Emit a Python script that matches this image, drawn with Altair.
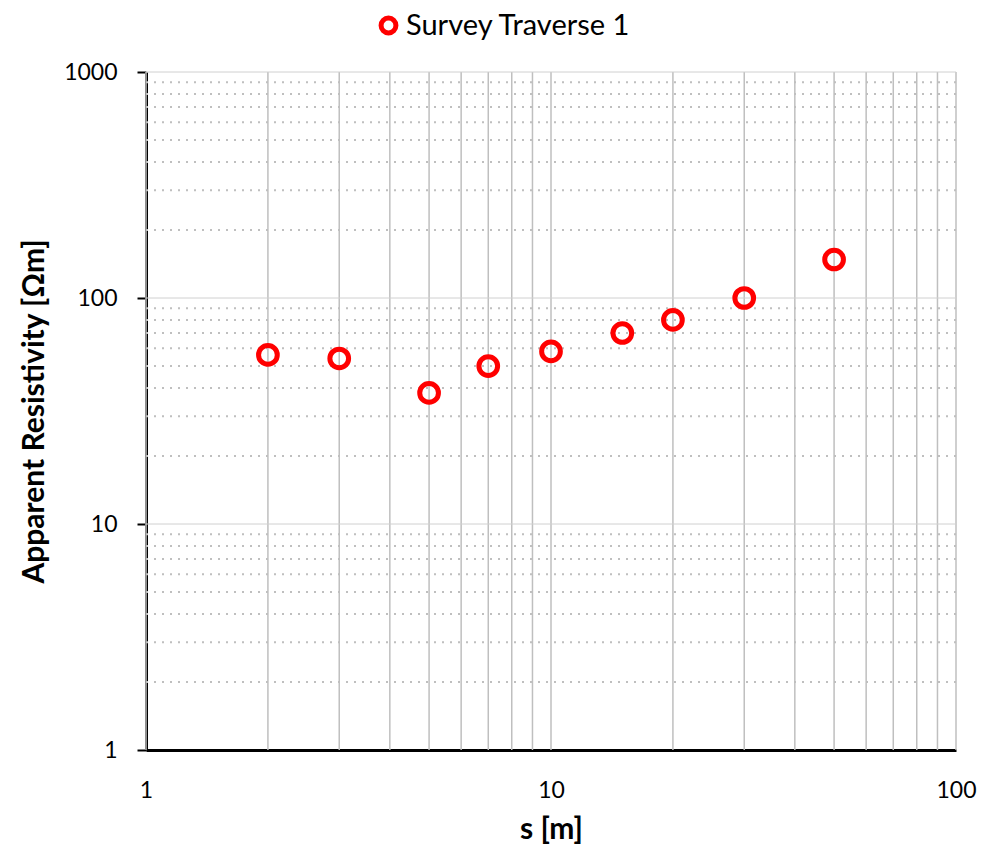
import altair as alt
import pandas as pd

# data
s_values = [2, 3, 5, 7, 10, 15, 20, 30, 50]
rho_values = [56, 54, 38, 50, 58, 70, 80, 100, 148]
series_name = "Survey Traverse 1"

x_major = [1, 10, 100]
y_major = [1, 10, 100, 1000]
multipliers = [2, 3, 4, 5, 6, 7, 8, 9]

x_grid = [1, 10, 100] + [d * m for d in [1, 10] for m in multipliers]
y_grid_major = [10, 100, 1000]
y_grid_minor = [d * m for d in [1, 10, 100] for m in multipliers]

pts = pd.DataFrame({"s": s_values, "rho": rho_values, "series": [series_name] * len(s_values)})
xg = pd.DataFrame({"s": x_grid})
ygM = pd.DataFrame({"rho": y_grid_major})
ygm = pd.DataFrame({"rho": y_grid_minor})

FONT = "Lato"
xscale = alt.Scale(type="log", domain=[1, 100], nice=False)
yscale = alt.Scale(type="log", domain=[1, 1000], nice=False)

xaxis = alt.Axis(values=x_major, format="d", grid=False, ticks=False,
                 labelPadding=29, titlePadding=12, labelFlush=False)
yaxis = alt.Axis(values=y_major, format="d", grid=False, tickSize=9,
                 tickWidth=2, tickColor="black", labelPadding=20, titlePadding=14)
XT = "s [m]"
YT = "Apparent Resistivity [Ωm]"

vgrid = alt.Chart(xg).mark_rule(color="#bfbfbf", strokeWidth=1.5).encode(
    x=alt.X("s:Q", scale=xscale, title=XT, axis=xaxis)
)
hgrid_minor = alt.Chart(ygm).mark_rule(color="#bfbfbf", strokeWidth=2, strokeDash=[2, 6]).encode(
    y=alt.Y("rho:Q", scale=yscale, title=YT, axis=yaxis)
)
hgrid_major = alt.Chart(ygM).mark_rule(color="#d0d0d0", strokeWidth=1).encode(
    y=alt.Y("rho:Q", scale=yscale, title=YT, axis=yaxis)
)

points = alt.Chart(pts).mark_point(shape="circle", filled=False, strokeWidth=5, size=350, opacity=1).encode(
    x=alt.X("s:Q", scale=xscale, title=XT, axis=xaxis),
    y=alt.Y("rho:Q", scale=yscale, title=YT, axis=yaxis),
    color=alt.Color("series:N", scale=alt.Scale(range=["#ff0000"]),
                    legend=alt.Legend(title=None, orient="none", legendX=228, legendY=-61,
                                      symbolStrokeWidth=5, symbolSize=220, labelFontSize=29,
                                      labelFont=FONT, labelColor="black", padding=0, labelOffset=3,
                                      labelLimit=400)),
)

chart = alt.layer(vgrid, hgrid_minor, hgrid_major, points).properties(
    width=810, height=678,
    autosize=alt.AutoSizeParams(type="none"),
    padding={"left": 138, "top": 64, "right": 23, "bottom": 100},
).configure_view(stroke=None).configure_axis(
    domainColor="black", domainWidth=3,
    labelFont=FONT, labelFontSize=23, labelColor="black",
    titleFont=FONT, titleFontSize=30, titleFontWeight="bold", titleColor="black",
)

chart.save("out.html", embed_options={"renderer": "svg", "actions": False})
